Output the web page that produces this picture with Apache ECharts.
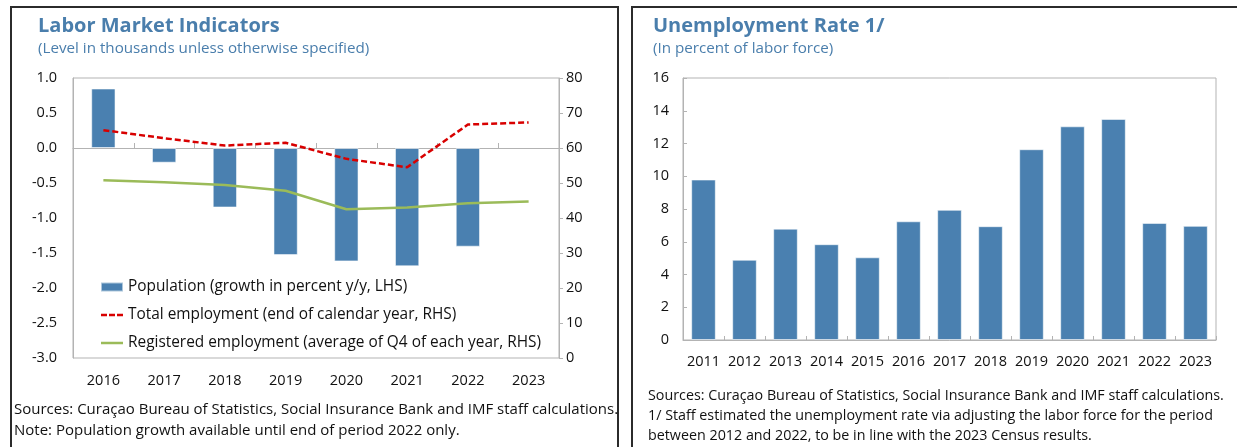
<!DOCTYPE html>
<html>
<head>
<meta charset="utf-8">
<title>Labor Market Indicators and Unemployment Rate</title>
<script src="https://cdn.jsdelivr.net/npm/echarts@6/dist/echarts.min.js"></script>
<style>
  html, body { margin: 0; padding: 0; background: #ffffff; }
  #chart { width: 1237px; height: 447px; }
</style>
</head>
<body>
<div id="chart"></div>
<script>
// Labor market panel (left)
const laborYears = ['2016', '2017', '2018', '2019', '2020', '2021', '2022', '2023'];
const populationGrowth = [0.85, -0.21, -0.85, -1.53, -1.62, -1.69, -1.41, null];
const totalEmployment = [65.1, 62.8, 60.7, 61.5, 56.9, 54.5, 66.7, 67.3];
const registeredEmployment = [50.8, 50.2, 49.4, 47.8, 42.5, 43.0, 44.2, 44.7];
const laborLeftTicks = { min: -3, max: 1, interval: 0.5 };
const laborRightTicks = { min: 0, max: 80, interval: 10 };

// Unemployment panel (right)
const unemploymentYears = ['2011', '2012', '2013', '2014', '2015', '2016', '2017', '2018', '2019', '2020', '2021', '2022', '2023'];
const unemploymentRate = [9.8, 4.9, 6.8, 5.85, 5.05, 7.25, 7.95, 6.95, 11.65, 13.05, 13.5, 7.15, 6.97];
const unemploymentTicks = { min: 0, max: 16, interval: 2 };

// Text
const leftTitle = 'Labor Market Indicators';
const leftSubtitle = '(Level in thousands unless otherwise specified)';
const rightTitle = 'Unemployment Rate 1/';
const rightSubtitle = '(In percent of labor force)';
const seriesNames = [
  'Population (growth in percent y/y, LHS)',
  'Total employment (end of calendar year, RHS)',
  'Registered employment (average of Q4 of each year, RHS)'
];
const leftNotes = [
  'Sources: Curaçao Bureau of Statistics, Social Insurance Bank and IMF staff calculations.',
  'Note: Population growth available until end of period 2022 only.'
];
const rightNotes = [
  'Sources: Curaçao Bureau of Statistics, Social Insurance Bank and IMF staff calculations.',
  '1/ Staff estimated the unemployment rate via adjusting the labor force for the period',
  'between 2012 and 2022, to be in line with the 2023 Census results.'
];

const FONT = '"Open Sans", "Noto Sans", sans-serif';
const BLUE = '#4a80b0';
const RED = '#d80000';
const GREEN = '#9bbb59';
const TITLE_BLUE = '#4a7eac';
const AXIS_GREY = '#b3b3b3';
const INK = '#111111';
const LABEL = { color: INK, fontFamily: FONT, fontSize: 14.5 };

function textEl(text, x, y, font, fill) {
  return {
    type: 'text',
    silent: true,
    style: { text: text, x: x, y: y, font: font, fill: fill, verticalAlign: 'middle' }
  };
}

const graphics = [
  // panel frames
  { type: 'rect', silent: true, shape: { x: 11, y: 7, width: 607, height: 500 },
    style: { fill: 'none', stroke: '#2b2b2b', lineWidth: 2 } },
  { type: 'rect', silent: true, shape: { x: 632, y: 7, width: 700, height: 500 },
    style: { fill: 'none', stroke: '#2b2b2b', lineWidth: 2 } },
  textEl(leftTitle, 38, 26, 'bold 20px ' + FONT, TITLE_BLUE),
  textEl(leftSubtitle, 38, 49, '15.2px ' + FONT, TITLE_BLUE),
  textEl(rightTitle, 653, 26, 'bold 20px ' + FONT, TITLE_BLUE),
  textEl(rightSubtitle, 653, 49, '15.2px ' + FONT, TITLE_BLUE),
  textEl(leftNotes[0], 14, 410, '15px ' + FONT, INK),
  textEl(leftNotes[1], 14, 431, '15px ' + FONT, INK),
  textEl(rightNotes[0], 648, 396, '14.3px ' + FONT, INK),
  textEl(rightNotes[1], 648, 416, '14.3px ' + FONT, INK),
  textEl(rightNotes[2], 648, 436, '14.3px ' + FONT, INK)
];

// Legend icons: solid block for bars, dashed and solid strokes for the lines
const DASH_ICON = 'path://M0,0h6v2.5h-6z M8,0h6v2.5h-6z M16,0h6v2.5h-6z';
const LINE_ICON = 'path://M0,0h22v2.5h-22z';

const option = {
  animation: false,
  backgroundColor: '#ffffff',
  textStyle: { fontFamily: FONT },
  graphic: graphics,
  legend: {
    orient: 'vertical',
    left: 95,
    top: 273,
    itemWidth: 22,
    itemHeight: 9,
    itemGap: 10,
    textStyle: { color: INK, fontFamily: FONT, fontSize: 15.4, lineHeight: 18 },
    data: [
      { name: seriesNames[0], icon: 'rect' },
      { name: seriesNames[1], icon: DASH_ICON, itemStyle: { color: RED, borderWidth: 0 } },
      { name: seriesNames[2], icon: LINE_ICON, itemStyle: { color: GREEN, borderWidth: 0 } }
    ]
  },
  grid: [
    { left: 73, top: 78, width: 486, height: 280, show: true, borderColor: AXIS_GREY, borderWidth: 1 },
    { left: 683, top: 78, width: 533, height: 262, show: true, borderColor: AXIS_GREY, borderWidth: 1 }
  ],
  xAxis: [
    { // category labels along the bottom of the labor panel
      type: 'category', gridIndex: 0, position: 'bottom', data: laborYears,
      axisLine: { show: false }, axisTick: { show: false },
      axisLabel: Object.assign({ margin: 15, interval: 0 }, LABEL)
    },
    { // zero line with category dividers
      type: 'category', gridIndex: 0, position: 'bottom', data: laborYears,
      axisLine: { show: true, onZero: true, onZeroAxisIndex: 0, lineStyle: { color: AXIS_GREY, width: 1 } },
      axisTick: { show: true, inside: true, length: 5, lineStyle: { color: AXIS_GREY } },
      axisLabel: { show: false }
    },
    {
      type: 'category', gridIndex: 1, position: 'bottom', data: unemploymentYears,
      axisLine: { show: true, lineStyle: { color: AXIS_GREY } },
      axisTick: { show: true, inside: true, length: 4, lineStyle: { color: AXIS_GREY } },
      axisLabel: Object.assign({ margin: 14, interval: 0 }, LABEL)
    }
  ],
  yAxis: [
    {
      type: 'value', gridIndex: 0, position: 'left',
      min: laborLeftTicks.min, max: laborLeftTicks.max, interval: laborLeftTicks.interval,
      axisLine: { show: true, lineStyle: { color: AXIS_GREY } },
      axisTick: { show: false }, splitLine: { show: false },
      axisLabel: Object.assign({ margin: 16, formatter: v => v.toFixed(1) }, LABEL)
    },
    {
      type: 'value', gridIndex: 0, position: 'right',
      min: laborRightTicks.min, max: laborRightTicks.max, interval: laborRightTicks.interval,
      axisLine: { show: true, lineStyle: { color: AXIS_GREY } },
      axisTick: { show: true, length: 4, lineStyle: { color: AXIS_GREY } },
      splitLine: { show: false },
      axisLabel: Object.assign({ margin: 7 }, LABEL)
    },
    {
      type: 'value', gridIndex: 1, position: 'left',
      min: unemploymentTicks.min, max: unemploymentTicks.max, interval: unemploymentTicks.interval,
      axisLine: { show: true, lineStyle: { color: AXIS_GREY } },
      axisTick: { show: true, inside: true, length: 4, lineStyle: { color: AXIS_GREY } },
      splitLine: { show: false },
      axisLabel: Object.assign({ margin: 14 }, LABEL)
    }
  ],
  series: [
    {
      name: seriesNames[0], type: 'bar', xAxisIndex: 0, yAxisIndex: 0,
      data: populationGrowth, barWidth: '40%',
      itemStyle: { color: BLUE, borderColor: 'rgba(255,255,255,0.55)', borderWidth: 1 }
    },
    {
      name: seriesNames[1], type: 'line', xAxisIndex: 0, yAxisIndex: 1,
      data: totalEmployment, symbol: 'none',
      lineStyle: { color: RED, width: 2.5, type: [6, 3] },
      itemStyle: { color: RED }
    },
    {
      name: seriesNames[2], type: 'line', xAxisIndex: 0, yAxisIndex: 1,
      data: registeredEmployment, symbol: 'none',
      lineStyle: { color: GREEN, width: 2.5 },
      itemStyle: { color: GREEN }
    },
    {
      name: 'Unemployment rate', type: 'bar', xAxisIndex: 2, yAxisIndex: 2,
      data: unemploymentRate, barWidth: '60%',
      itemStyle: { color: BLUE, borderColor: 'rgba(255,255,255,0.55)', borderWidth: 1 }
    }
  ]
};

const chart = echarts.init(document.getElementById('chart'), null, { renderer: 'canvas' });
chart.setOption(option);
</script>
</body>
</html>
